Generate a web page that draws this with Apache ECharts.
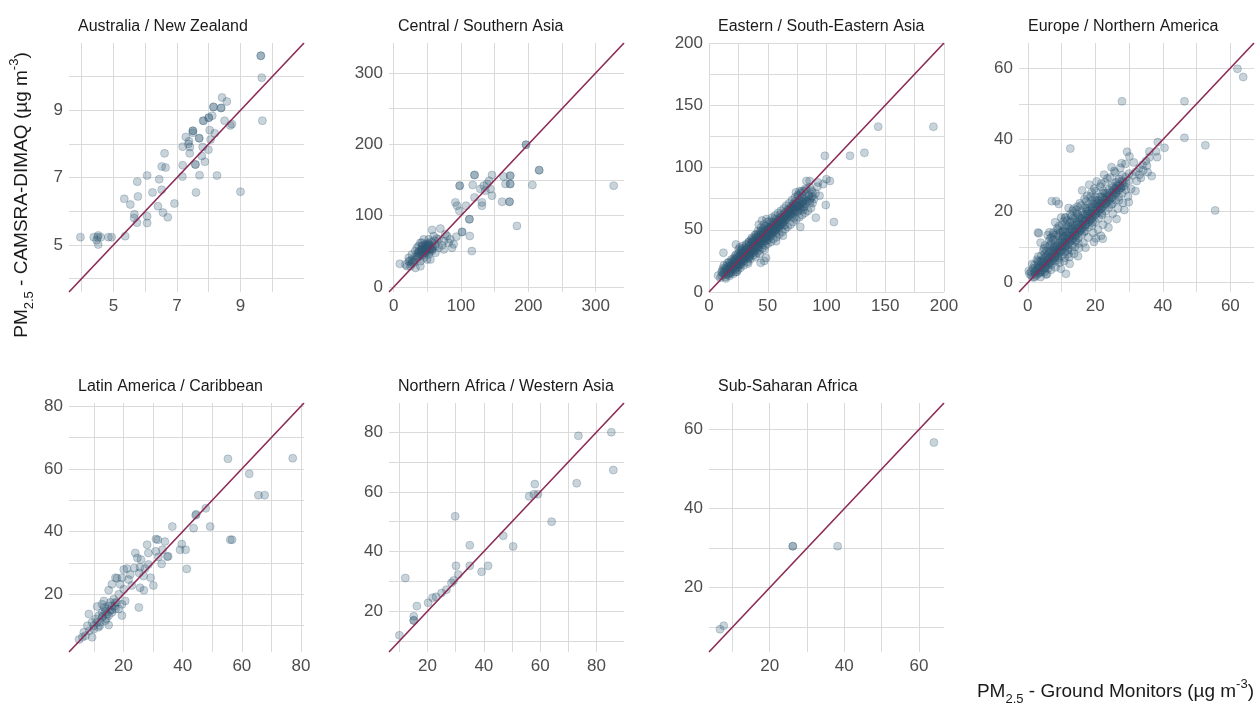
<!DOCTYPE html>
<html><head><meta charset="utf-8">
<script src="https://cdn.jsdelivr.net/npm/echarts@6/dist/echarts.min.js"></script>
<style>html,body{margin:0;padding:0;background:#fff}#c{width:1256px;height:709px}</style>
</head><body><div id="c"></div>
<script>
const panelTitles = ['Australia / New Zealand','Central / Southern Asia','Eastern / South-Eastern Asia','Europe / Northern America','Latin America / Caribbean','Northern Africa / Western Asia','Sub-Saharan Africa'];

const ausNz = [[9.64,10.62],[9.64,10.62],[9.67,9.97],[9.69,8.69],[8.42,9.38],[8.57,9.26],[8.15,9.10],[8.15,9.10],[8.39,9.07],[8.39,9.07],[8.11,8.84],[8.0,8.78],[8.0,8.78],[7.82,8.69],[8.5,8.69],[8.68,8.55],[8.73,8.59],[8.03,8.41],[8.19,8.32],[7.5,8.39],[7.5,8.39],[7.5,8.33],[7.7,8.17],[7.7,8.17],[7.28,8.21],[7.38,8.08],[8.06,8.13],[7.18,7.92],[7.41,7.91],[7.4,7.72],[7.81,7.91],[7.99,7.83],[7.78,7.64],[7.88,7.47],[7.58,7.39],[7.58,7.39],[6.61,7.72],[6.52,7.33],[6.64,7.30],[7.18,7.37],[7.17,7.03],[7.71,7.07],[8.26,7.06],[6.06,7.06],[5.75,6.88],[6.44,6.95],[6.52,6.64],[6.23,6.56],[5.77,6.44],[5.34,6.37],[5.53,6.20],[6.92,6.23],[6.4,6.15],[7.6,6.56],[9.0,6.58],[6.56,5.96],[6.71,5.82],[5.66,5.91],[5.65,5.80],[5.74,5.66],[6.06,5.85],[6.06,5.65],[5.37,5.26],[3.96,5.23],[4.38,5.23],[4.52,5.28],[4.6,5.23],[4.47,5.14],[4.52,5.01],[4.84,5.23],[4.94,5.23],[4.5,5.23],[7.84,8.69],[7.36,8.0]];

const centralSouthAsia = [[196.5,199.5],[196.5,199.5],[216,163.8],[216,163.8],[326.7,142],[206,143],[173,156],[173,156],[173,144.5],[173,144.5],[163,155],[166,144.5],[172,119.5],[172,119.5],[161,119.5],[183,85.6],[120,157],[120,157],[146,157],[98,142],[98,142],[117.3,143],[141.6,149],[128.7,137.4],[136,135],[143.6,137.4],[133.7,142],[138.6,144.5],[120,125.6],[131,118.6],[131,113.9],[146,128],[91.6,118.6],[94,113.9],[97.5,106.8],[107.4,113.9],[112.4,95],[112.4,95],[101.5,77.2],[101.5,77.2],[113,71.5],[116,50.4],[93,70.6],[69.3,81.9],[57,80],[84,66.8],[86.6,55],[74.3,64.5],[66.8,66.8],[79.2,71.5],[59.4,71.5],[52,66.8],[47,57.4],[39.6,62],[37,57.4],[42,52.7],[49.5,50.4],[57,52.7],[62,57.4],[66.8,55],[71.8,58.4],[32,50.4],[27,45.6],[34.7,43.3],[22.3,41],[9,32.5],[17.3,31.5],[24.8,29.2],[29.7,33.9],[39.6,36.2],[44.6,41],[52,45.6],[54.5,38.6],[47,48],[37,48],[42,57.4],[34.6,55],[27.2,38.6],[19.8,29.2],[32.2,26.8],[39.6,29.2],[49.5,38.6],[62,48],[74.3,52.7],[89,59.8],[81.7,62],[76.7,73.9],[52,59.8],[44.6,66.8],[42,62],[22.3,36.2],[40,45],[45,50],[50,55],[55,58],[35,40],[42,52],[48,56],[52,60],[38,44],[44,47],[46,53],[54,52],[58,55],[62,60],[36,48],[33,43],[30,38],[28,35],[26,32],[24,36],[43,58],[47,60],[51,62],[56,63],[60,65],[64,68],[41,49],[49,52],[53,49],[57,51],[45,55],[50,58],[40,52],[55,54],[48,50],[43,44],[38,50],[52,57]];

const eastSouthEastAsia = [[144,132.8],[191,132.8],[98.6,109.4],[120,109.4],[132.3,111.8],[99.4,69.9],[106.3,56.2],[90.9,59.7],[85.7,89.2],[82.9,89.2],[102.9,89.2],[100,90.6],[97,86.6],[92.9,88],[12.3,31.5],[7.7,13.2],[22.9,38.2],[22.9,16.1],[48.6,27.4],[44,23.4],[47,25],[77.7,52.2],[87,75.8],[88,77],[77,81],[74,80],
[11,13],[12,15],[13,14],[13,17],[14,12],[14,16],[15,18],[15,14],[16,17],[16,20],[17,15],[17,19],[18,17],[18,21],[18,23],[19,18],[19,16],[20,22],[20,19],[20,25],[11,17],[15,21],[17,24],[19,21],[12,19],
[21,20],[21,24],[22,21],[22,26],[22,18],[23,23],[23,27],[24,22],[24,25],[24,20],[25,24],[25,28],[25,22],[26,26],[26,29],[26,23],[27,25],[27,30],[27,22],[28,27],[28,31],[28,24],[29,26],[29,29],[29,32],[30,28],[30,25],[30,31],[21,27],[23,30],[25,31],[27,33],[29,35],[24,28],[28,34],
[31,30],[31,27],[31,34],[32,29],[32,32],[32,36],[33,31],[33,28],[33,35],[34,33],[34,30],[34,37],[35,32],[35,35],[35,29],[36,34],[36,38],[36,31],[37,33],[37,36],[37,40],[38,35],[38,32],[38,38],[39,36],[39,41],[39,33],[40,38],[40,35],[40,42],[32,38],[34,40],[36,42],[38,43],[40,46],
[41,37],[41,40],[41,44],[42,39],[42,36],[42,43],[43,41],[43,38],[43,46],[44,42],[44,39],[44,45],[45,40],[45,43],[45,48],[46,44],[46,41],[46,38],[47,43],[47,46],[47,50],[48,44],[48,41],[48,47],[49,46],[49,43],[49,50],[50,45],[50,48],[50,42],[42,47],[44,49],[46,51],[48,53],[50,52],
[51,47],[51,44],[51,50],[52,48],[52,45],[52,52],[53,49],[53,46],[53,53],[54,50],[54,47],[54,54],[55,51],[55,48],[55,56],[56,52],[56,49],[56,55],[57,53],[57,50],[58,54],[58,51],[58,57],[59,55],[59,52],[60,56],[60,53],[60,59],[53,56],[57,58],
[61,57],[61,54],[61,60],[62,58],[62,55],[63,59],[63,56],[63,62],[64,60],[64,57],[65,61],[65,58],[65,64],[66,62],[66,59],[67,63],[67,60],[67,66],[68,64],[68,61],[69,65],[69,62],[70,66],[70,63],[70,69],
[71,64],[71,68],[72,67],[72,63],[72,71],[73,68],[73,65],[74,70],[74,66],[75,69],[75,72],[76,68],[76,65],[77,71],[77,74],[78,70],[78,66],[79,73],[80,72],[80,68],[81,75],[82,71],[83,76],[84,73],[85,78],[86,74],[88,80],[76,78],[79,81],[82,83],
[25.3,34.1],[26.8,19.5],[28.2,36.7],[29.6,21.4],[31.4,38.2],[32.7,24.1],[33.9,40.3],[35.2,26.4],[27.4,31.8],[30.8,33.6],[34.1,27.3],[26.1,35.7],[24.6,17.9],[33.3,22.8],[35.8,39.4],
[36.4,43.5],[37.8,29.6],[39.1,45.8],[40.5,31.2],[41.7,48.9],[42.9,33.4],[44.3,51.6],[45.6,35.1],[46.8,54.2],[48.1,37.3],[49.4,56.3],[50.2,38.9],[37.2,41.1],[38.6,37.9],[40.2,44.4],[41.4,39.6],[43.5,43.8],[44.8,47.2],[46.3,42.7],[47.7,48.6],[49.1,44.1],[50.7,51.2],[39.8,28.4],[43.1,30.7],[47.2,33.9],[45.1,57.4],[48.8,58.6],[42.4,54.1],
[51.5,56.7],[52.8,40.2],[53.6,59.8],[54.9,42.6],[56.2,61.4],[57.5,44.1],[58.7,63.5],[59.9,46.3],[61.2,65.2],[62.4,48.4],[63.7,67.1],[64.9,50.6],[51.9,51.3],[53.2,47.9],[55.4,53.2],[56.9,49.7],[58.3,55.8],[59.6,51.4],[61.8,58.2],[63.1,53.9],[64.4,60.7],[55.8,58.9],[60.4,62.1],[57.1,40.8],[62.9,45.2],
[65.7,69.3],[66.9,52.4],[68.2,71.2],[69.4,54.1],[70.6,73.8],[71.8,56.3],[73.1,75.9],[74.3,58.2],[75.6,77.4],[76.8,60.1],[78.1,79.3],[79.3,61.8],[80.6,80.9],[81.8,63.7],[83.1,82.4],[84.3,65.2],[85.6,84.1],[86.8,67.4],[88.1,71.3],[89.4,74.6],[67.3,65.4],[70.1,60.2],[72.7,69.9],[75.2,64.3],[77.6,67.8],[79.9,70.6],[82.4,74.1],[84.9,77.2],[87.2,81.5],[73.9,73.1],[69.8,67.4],[78.7,76.2],[81.1,68.4],[86.1,71.8],[90.6,79.2],[92.3,84.6],[94.1,77.3],
[12.6,21.3],[14.3,10.9],[15.8,23.4],[17.4,12.8],[19.1,26.1],[20.7,14.6],[22.3,28.9],[23.8,16.3],[13.7,18.6],[16.6,14.1],[18.8,19.7],[21.4,22.6],[23.1,19.2],[10.8,15.6],[9.6,11.4],
[20.5,19.8],[24.3,22.7],[28.7,26.4],[32.4,30.1],[36.1,33.2],[39.7,36.4],[43.2,39.8],[46.9,43.1],[50.5,46.2],[54.1,49.6],[57.8,52.8],[61.4,56.3],[65.1,59.4],[68.7,62.8],[72.4,66.1],[76.1,69.3],[79.8,72.5],[22.6,23.9],[26.4,27.1],[30.2,30.6],[34.3,34.8],[38.1,38.7],[41.9,42.2],[45.7,45.9],[49.6,49.1],[53.4,52.6],[57.2,56.1],[61.1,59.7],[64.8,63.3],[68.6,66.8],[72.3,70.4],[18.4,15.2],[26.2,21.6],[33.8,28.1],[41.6,34.9],[49.3,41.2],[57.1,47.4],[64.7,53.6],[72.5,59.7],[80.2,65.8]];

const europeNorthAmerica = [[62.1,59.8],[63.8,57.5],[27.9,50.7],[46.4,50.7],[46.4,40.5],[52.6,38.4],[55.5,20.2],[12.6,37.5],[38.5,39.3],[40.5,37.7],[38,36.7],[38.3,35.1],[36,36.7],[29.4,36.6],[30.1,35.3],[35.5,30.9],[36.7,29.8],[33.5,29.3],[31.9,25.6],[29.9,22.5],[7.1,22.8],[8.4,22.8],[9.2,22],[11.1,18.3],[3.3,13.8],[3.0,14],[11.3,2.5],[22.2,12.3],[20.2,12.4],[13.6,20.7],[5.4,2.3],[0.3,3.3],[6.4,14.1],[10.5,14.2],[7.5,14],
[1,2],[1,3],[1.5,1.5],[2,3],[2,1.5],[2,4],[2.5,2],[2.5,3.5],[3,2.5],[3,4],[3,5],[3.5,3],[3.5,4.5],[4,3],[4,5],[4,6],[4.5,3.5],[4.5,5],[4.5,6.5],[5,4],[5,5.5],[5,7],[5,3],[1.5,4],[3,6],[4,7.5],[2,5],[3.5,6],[5,8],[0.5,2.5],
[5.5,4.5],[5.5,6],[5.5,7.5],[6,5],[6,6.5],[6,8],[6,4],[6.5,5.5],[6.5,7],[6.5,8.5],[7,6],[7,7.5],[7,9],[7,5],[7.5,6.5],[7.5,8],[7.5,9.5],[8,7],[8,8.5],[8,10],[8,6],[8.5,7.5],[8.5,9],[8.5,10.5],[9,8],[9,9.5],[9,11],[9,7],[9.5,8.5],[9.5,10],[9.5,11.5],[10,9],[10,10.5],[10,12],[10,7.5],[6,10],[7,11],[8,12],[9,13],[10,14],[5.5,9],[6.5,10.5],[7.5,12],[8.5,13.5],[9.5,14],
[10.5,9.5],[10.5,11],[10.5,12.5],[11,10],[11,11.5],[11,13],[11,8.5],[11.5,10.5],[11.5,12],[11.5,14],[12,11],[12,12.5],[12,14],[12,9.5],[12.5,11.5],[12.5,13],[12.5,15],[13,12],[13,13.5],[13,15],[13,10.5],[13.5,12.5],[13.5,14],[13.5,16],[14,13],[14,14.5],[14,16],[14,11.5],[14.5,13.5],[14.5,15],[14.5,17],[15,14],[15,15.5],[15,17],[15,12.5],[11,15],[12,16],[13,17],[14,18],[15,19],[10.5,14.5],[11.5,16],[12.5,17],[13.5,18],[14.5,19.5],[12,8],[13,9],[14,10],[15,11],[11,7],
[15.5,14.5],[15.5,16],[15.5,18],[16,15],[16,16.5],[16,18],[16,13.5],[16.5,15.5],[16.5,17],[16.5,19],[17,16],[17,17.5],[17,19],[17,14.5],[17.5,16.5],[17.5,18],[17.5,20],[18,17],[18,18.5],[18,20],[18,15.5],[18.5,17.5],[18.5,19],[18.5,21],[19,18],[19,19.5],[19,21],[19,16],[19.5,18.5],[19.5,20],[19.5,22],[20,19],[20,20.5],[20,22],[20,17],[16,20],[17,21],[18,22],[19,23],[20,24],
[20.5,19.5],[20.5,21],[20.5,23],[21,20],[21,21.5],[21,23],[21,18],[21.5,20.5],[21.5,22],[21.5,24],[22,21],[22,22.5],[22,24],[22,19],[22.5,21.5],[22.5,23],[22.5,25],[23,22],[23,23.5],[23,25],[23,20],[23.5,22.5],[23.5,24],[24,23],[24,24.5],[24,26],[24,21],[24.5,23.5],[25,24],[25,25.5],[25,27],
[25.5,24.5],[25.5,26],[26,25],[26,26.5],[26,28],[26,23],[26.5,25.5],[26.5,27],[27,26],[27,27.5],[27,29],[27,24],[27.5,26.5],[28,27],[28,28.5],[28,30],[28,25],[28.5,27],[29,28],[29,29.5],[29,26],[30,28.5],[30,30.5],[31,30],[32,31],[33,32],[34,33],[35,34],[36,35],[25,22],[27,23],
[1.3,5.2],[2.7,6.4],[3.8,1.6],[4.6,8.9],[5.7,2.4],[6.3,11.7],[6.9,3.6],[7.6,13.4],[8.2,4.3],[8.9,14.8],[9.4,5.6],[10.2,16.1],[10.8,6.1],[11.6,17.4],[12.3,7.2],[12.9,18.6],[13.7,8.1],[14.4,20.3],[15.2,9.7],[15.8,21.6],[16.5,11.2],[17.3,22.8],[17.9,12.6],[18.6,24.1],[19.4,13.9],[20.1,25.6],[20.8,14.8],[21.5,26.9],[22.3,16.2],[22.9,28.1],[23.7,17.6],[24.4,29.4],[25.2,19.3],[25.9,30.8],[26.7,20.7],[27.4,32.1],[28.2,22.3],[28.9,33.2],[29.7,24.1],[30.6,26.2],[31.4,33.6],[32.3,28.4],[33.1,30.2],[34.2,31.4],[35.3,32.7],
[2.2,2.6],[3.3,3.4],[4.2,4.1],[5.3,5.1],[6.2,6.2],[7.3,7.1],[8.3,8.2],[9.2,9.1],[10.3,10.2],[11.3,11.1],[12.2,12.3],[13.2,13.1],[14.2,14.1],[15.3,15.2],[16.2,16.1],[17.2,17.3],[18.3,18.2],[19.2,19.1],[20.3,20.2],[21.2,21.3],[22.2,22.1],[23.3,23.2],[24.2,24.1],[25.3,25.2],[26.2,26.1],[27.3,27.2],[28.3,28.1],
[4.8,9.6],[6.7,12.4],[8.7,15.3],[10.6,17.2],[12.6,19.1],[14.7,21.2],[16.8,23.4],[18.9,25.2],[3.1,7.3],[5.1,10.4],[7.1,12.8],[9.3,15.9],[11.2,18.1],[13.3,20.1],[15.4,22.2],[17.6,24.3],[19.7,26.3],[21.8,27.7],[23.6,29.1],[25.6,31.2],[27.8,33.4],[16.1,25.8],[18.2,27.4],[20.4,28.3],[22.6,30.2],[24.8,32.3],[9.8,3.9],[12.4,5.3],[14.9,7.4],[17.1,9.8],[19.6,11.4],[21.7,13.1],[23.9,15.4],[26.3,17.8],[28.6,20.3],[8.1,16.9],[9.9,18.2],[12.1,20.9],[5.9,13.3],[3.8,11.2],
[2.8,3.9],[4.3,5.6],[5.8,7.2],[7.2,8.7],[8.7,10.1],[10.1,11.6],[11.6,13.2],[13.1,14.6],[14.6,16.2],[16.1,17.6],[17.6,19.1],[19.1,20.7],[20.6,22.2],[22.1,23.6],[23.6,25.1],[25.1,26.6],[26.6,28.2],[3.6,2.7],[5.1,4.2],[6.6,5.8],[8.1,7.3],[9.6,8.8],[11.1,10.3],[12.6,11.8],[14.1,13.2],[15.6,14.7],[17.1,16.2],[18.6,17.7],[20.1,19.2],[21.6,20.7],[23.1,22.2],[24.6,23.6],[26.1,25.1],[27.6,26.5],[7.8,9.8],[10.4,12.9],[12.8,15.6],[15.1,18.3],[17.4,20.6],[19.8,23.1],[22.4,25.7],[9.1,6.4],[11.8,9.1],[14.3,11.9],[16.7,14.2],[19.2,16.8],[21.9,19.4],[24.7,21.8]];

const latinAmerica = [[55.3,63.2],[77.2,63.4],[62.5,58.4],[65.6,51.6],[67.7,51.6],[47.8,47.4],[44.6,45.5],[44.4,45.2],[36.5,41.6],[43.7,41.1],[49.3,41.6],[56.1,37.4],[56.7,37.4],[39.7,36.0],[39.1,34.2],[41.0,34.2],[41.4,28.1],[31.0,37.6],[31.6,37.4],[28,35.8],[34,36.8],[30.9,33.7],[35.1,32.1],[34.8,32.0],[32.9,29.7],[28.4,33.2],[24,33.2],[24.7,31.6],[25.9,31.1],[28.4,29.5],[25.6,28.6],[27.3,28.2],[23.7,28.4],[25.3,26.8],[29.2,25.3],[21.2,28.2],[20.1,27.9],[17.8,25.1],[17.3,25.3],[19.5,25.3],[22.3,26.3],[30.1,22.8],[25.6,22.1],[26.9,21.3],[16.1,23.2],[15,21.3],[18.4,20.0],[20.6,17.9],[19.5,16.8],[25.2,15.8],[22.8,22.8],[21.7,24.7],[31.8,31.9],[33.2,34.2],[26.8,25.8],
[15,16.3],[12.8,16.8],[11.1,16.1],[13.9,15.3],[16.1,16.3],[17.3,15.3],[12.8,14.2],[11.7,13.2],[15,13.2],[10.6,12.1],[8.3,13.7],[13.9,11.6],[9.4,11.1],[15,10.2],[7.8,10.0],[12.2,11.1],[10,8.9],[6.6,7.9],[6.1,6.3],[5,5.6],[9.4,6.3],[7.2,6.8],[16.1,14.2],[18.4,15.3],[13.4,17.9],[17.3,17.4],[19.5,13.2],[11.5,9.5],[8.5,8.4],[12.8,12.6],[14.5,13.7],[15.6,17.4],[16.7,18.4],[17.8,17.4],[20.1,21.6],[18.9,23.2],[14,14.5],[13,13],[11,11],[16,15],[14.2,12.2],[12,10],[10,10],[17,16.2],[15.5,14.8],[13.5,15.8]];

const northAfricaWestAsia = [[85.3,80],[73.6,78.8],[86,67.3],[73,62.9],[58.1,62.6],[56.1,58.5],[57.8,59.2],[59.2,59.2],[64.1,50],[29.8,51.8],[46.9,45.3],[50.4,41.7],[35,42.1],[30.1,35.2],[35,35.2],[41.5,35.2],[39.2,33.2],[30.9,32.3],[29.3,30.3],[28.5,29.5],[26.7,27.2],[25,26.1],[23,24.8],[21.8,24.5],[20.2,22.8],[16.2,21.7],[15.1,18.3],[15.1,16.9],[15.1,16.9],[12.1,31.1],[10,11.9]];

const subSaharanAfrica = [[64,56.7],[38.2,30.5],[26.2,30.5],[26.2,30.5],[6.7,9.5],[7.7,10.4]];

const axisRanges = [[3.6,11],[-7,342],[0,200],[-2.6,67],[1.6,81],[6.3,89.8],[3.75,66.7]];
const gridValues = [[4,5,6,7,8,9,10],[0,50,100,150,200,250,300],[0,25,50,75,100,125,150,175,200],[0,10,20,30,40,50,60],[10,20,30,40,50,60,70,80],[10,20,30,40,50,60,70,80],[10,20,30,40,50,60]];
const labelValues = [[5,7,9],[0,100,200,300],[0,50,100,150,200],[0,20,40,60],[20,40,60,80],[20,40,60,80],[20,40,60]];

const FONT = 'Liberation Sans, Arial, Helvetica, sans-serif';
const panelData = [ausNz, centralSouthAsia, eastSouthEastAsia, europeNorthAmerica, latinAmerica, northAfricaWestAsia, subSaharanAfrica];
const layout = [[69,43],[389,43],[709,43],[1019,43],[69,403],[389,403],[709,403]];
const W = 235, H = 249;

const chart = echarts.init(document.getElementById('c'), null, {renderer:'canvas', width:1256, height:709});
const grids=[], xAxes=[], yAxes=[], series=[], graphics=[];
panelData.forEach((pts,i)=>{
  const [l,t] = layout[i];
  const [mn,mx] = axisRanges[i];
  grids.push({left:l, top:t, width:W, height:H});
  const common = {
    type:'value', gridIndex:i, min:mn, max:mx,
    axisLine:{show:false},
    axisTick:{show:false, customValues:gridValues[i]},
    splitLine:{show:true, lineStyle:{color:'#dadada', width:1}},
  };
  const lbl = {customValues:labelValues[i], fontSize:17, color:'#4d4d4d', fontFamily:FONT};
  xAxes.push(Object.assign({}, common, {axisLabel:Object.assign({margin:6}, lbl)}));
  yAxes.push(Object.assign({}, common, {axisLabel:Object.assign({margin:6}, lbl)}));
  series.push({type:'scatter', xAxisIndex:i, yAxisIndex:i, data:pts, symbolSize:8,
    itemStyle:{color:'rgba(44,86,115,0.33)', borderColor:'rgba(44,86,115,0.3)', borderWidth:1}, z:2, silent:true});
  series.push({type:'line', xAxisIndex:i, yAxisIndex:i, data:[[mn,mn],[mx,mx]], symbol:'none',
    lineStyle:{color:'#8b2a55', width:1.6}, z:3, silent:true});
  graphics.push({type:'text', x:l+9, y:t-16, style:{text:panelTitles[i], fontSize:16, fontFamily:FONT, fill:'#1a1a1a',
    align:'left', textAlign:'left', verticalAlign:'middle', textVerticalAlign:'middle'}});
});

const richStyles = {
  a:{fontSize:19, lineHeight:28, fontFamily:FONT, color:'#1a1a1a'},
  s:{fontSize:13, lineHeight:13, fontFamily:FONT, color:'#1a1a1a', verticalAlign:'bottom'},
  p:{fontSize:13, lineHeight:13, fontFamily:FONT, color:'#1a1a1a', verticalAlign:'top'}
};
graphics.push({type:'text', x:22, y:195, rotation:Math.PI/2,
  style:{text:'{a|PM}{s|2.5}{a| - CAMSRA-DIMAQ (µg m}{p|-3}{a|)}', rich:richStyles, fill:'#1a1a1a',
    align:'center', textAlign:'center', verticalAlign:'middle', textVerticalAlign:'middle'}});
graphics.push({type:'text', x:1254, y:692,
  style:{text:'{a|PM}{s|2.5}{a| - Ground Monitors (µg m}{p|-3}{a|)}', rich:richStyles, fill:'#1a1a1a',
    align:'right', textAlign:'right', verticalAlign:'middle', textVerticalAlign:'middle'}});

chart.setOption({
  animation:false,
  backgroundColor:'#ffffff',
  grid:grids, xAxis:xAxes, yAxis:yAxes, series:series, graphic:graphics
});
</script></body></html>
